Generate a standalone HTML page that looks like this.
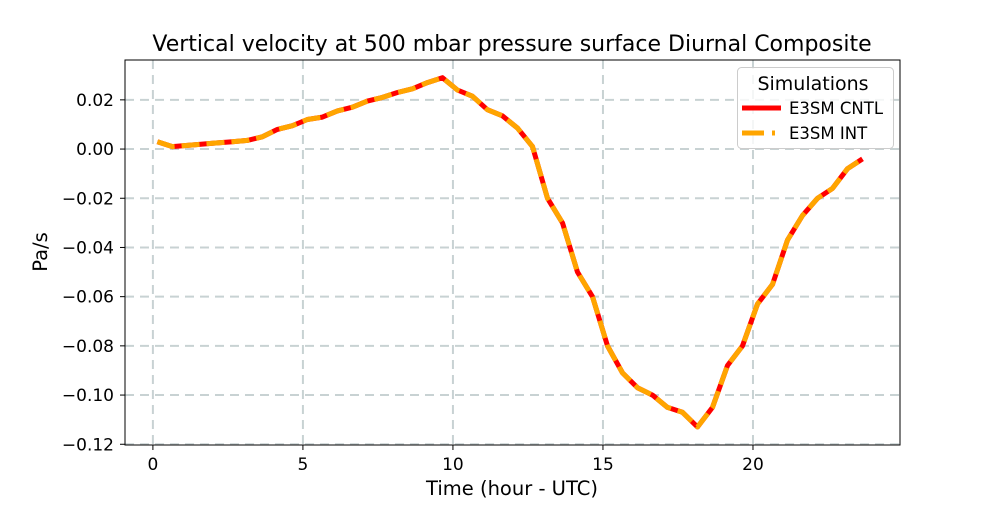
<!DOCTYPE html>
<html><head><meta charset="utf-8"><style>
body{margin:0;background:#fff;}
svg text{font-family:"DejaVu Sans","Liberation Sans",sans-serif;fill:#000;}
</style></head><body>
<svg id="chart" width="1000" height="500" xmlns="http://www.w3.org/2000/svg">
<rect width="1000" height="500" fill="#fff"/>
<g id="grid"></g>
<g id="lines"></g>
<g id="axes"></g>
<text x="512" y="51" font-size="22" text-anchor="middle">Vertical velocity at 500 mbar pressure surface Diurnal Composite</text>
<text x="512" y="495" font-size="19.5" text-anchor="middle">Time (hour - UTC)</text>
<text x="0" y="0" font-size="19.5" text-anchor="middle" transform="translate(47,252) rotate(-90)">Pa/s</text>
<g>
<rect x="737.5" y="67.5" width="156" height="81" rx="4" fill="#fff" fill-opacity="0.8" stroke="#ccc"/>
<text x="813" y="90" font-size="19" text-anchor="middle">Simulations</text>
<line x1="742" y1="108" x2="781" y2="108" stroke="#ff0000" stroke-width="5"/>
<text x="789" y="114" font-size="16.5">E3SM CNTL</text>
<line x1="742" y1="133" x2="781" y2="133" stroke="#ffa500" stroke-width="5" stroke-dasharray="22,8,3,8"/>
<text x="789" y="139" font-size="16.5">E3SM INT</text>
</g>
</svg>
<script>
const hours=[0.15,0.65,1.15,1.65,2.15,2.65,3.15,3.65,4.15,4.65,5.15,5.65,6.15,6.65,7.15,7.65,8.15,8.65,9.15,9.65,10.15,10.65,11.15,11.65,12.15,12.65,13.15,13.65,14.15,14.65,15.15,15.65,16.15,16.65,17.15,17.65,18.15,18.65,19.15,19.65,20.15,20.65,21.15,21.65,22.15,22.65,23.15,23.65];
const cntl=[0.003,0.001,0.0015,0.002,0.0025,0.003,0.0035,0.005,0.008,0.0095,0.012,0.013,0.0155,0.017,0.0195,0.021,0.023,0.0245,0.027,0.029,0.024,0.0215,0.016,0.0135,0.0085,0.001,-0.02,-0.03,-0.05,-0.06,-0.08,-0.091,-0.097,-0.1,-0.105,-0.107,-0.113,-0.105,-0.088,-0.08,-0.063,-0.055,-0.037,-0.027,-0.02,-0.016,-0.008,-0.004];
const intv=cntl.slice();
const xTicks=[0,5,10,15,20];
const yTicks=[0.02,0.00,-0.02,-0.04,-0.06,-0.08,-0.10,-0.12];
const yTickLabels=["0.02","0.00","\u22120.02","\u22120.04","\u22120.06","\u22120.08","\u22120.10","\u22120.12"];
const L=125,R=900,T=60,B=445;
const x0=-0.93,x1=24.9,y0=-0.1203,y1=0.0362;
const X=v=>L+(v-x0)/(x1-x0)*(R-L);
const Y=v=>B-(v-y0)/(y1-y0)*(B-T);
const NS="http://www.w3.org/2000/svg";
function mk(tag,attrs,parent){const e=document.createElementNS(NS,tag);for(const k in attrs)e.setAttribute(k,attrs[k]);parent.appendChild(e);return e;}
const grid=document.getElementById('grid'),axes=document.getElementById('axes'),lines=document.getElementById('lines');
xTicks.forEach(t=>{
 const g=mk('line',{x1:X(t),x2:X(t),y1:T,y2:B,stroke:'#b0bfc0','stroke-width':2,'stroke-dasharray':'9,6','stroke-opacity':0.7},grid);
 
 
 const tk=mk('line',{x1:X(t),x2:X(t),y1:B,y2:B+5,stroke:'#000','stroke-width':1},axes);
 
 
 const tx=mk('text',{x:X(t),y:B+25,'font-size':17,'text-anchor':'middle'},axes);
 tx.textContent=t;
 
 
});
yTicks.forEach((t,i)=>{
 const g=mk('line',{x1:L,x2:R,y1:Y(t),y2:Y(t),stroke:'#b0bfc0','stroke-width':2,'stroke-dasharray':'9,6','stroke-opacity':0.7},grid);
 
 
 const tk=mk('line',{x1:L-5,x2:L,y1:Y(t),y2:Y(t),stroke:'#000','stroke-width':1},axes);
 
 
 const tx=mk('text',{x:L-11,y:Y(t)+6,'font-size':17,'text-anchor':'end'},axes);
 tx.textContent=yTickLabels[i];
 
 
});
const fr=mk('rect',{x:L,y:T,width:R-L,height:B-T,fill:'none',stroke:'#000','stroke-width':1},axes);


const pts=a=>a.map((v,i)=>X(hours[i]).toFixed(1)+','+Y(v).toFixed(1)).join(' ');
const l1=mk('polyline',{points:pts(cntl),fill:'none',stroke:'#ff0000','stroke-width':5,'stroke-linejoin':'round'},lines);


const l2=mk('polyline',{points:pts(intv),fill:'none',stroke:'#ffa500','stroke-width':5,'stroke-dasharray':'18,7','stroke-linejoin':'round'},lines);


</script>
</body></html>
